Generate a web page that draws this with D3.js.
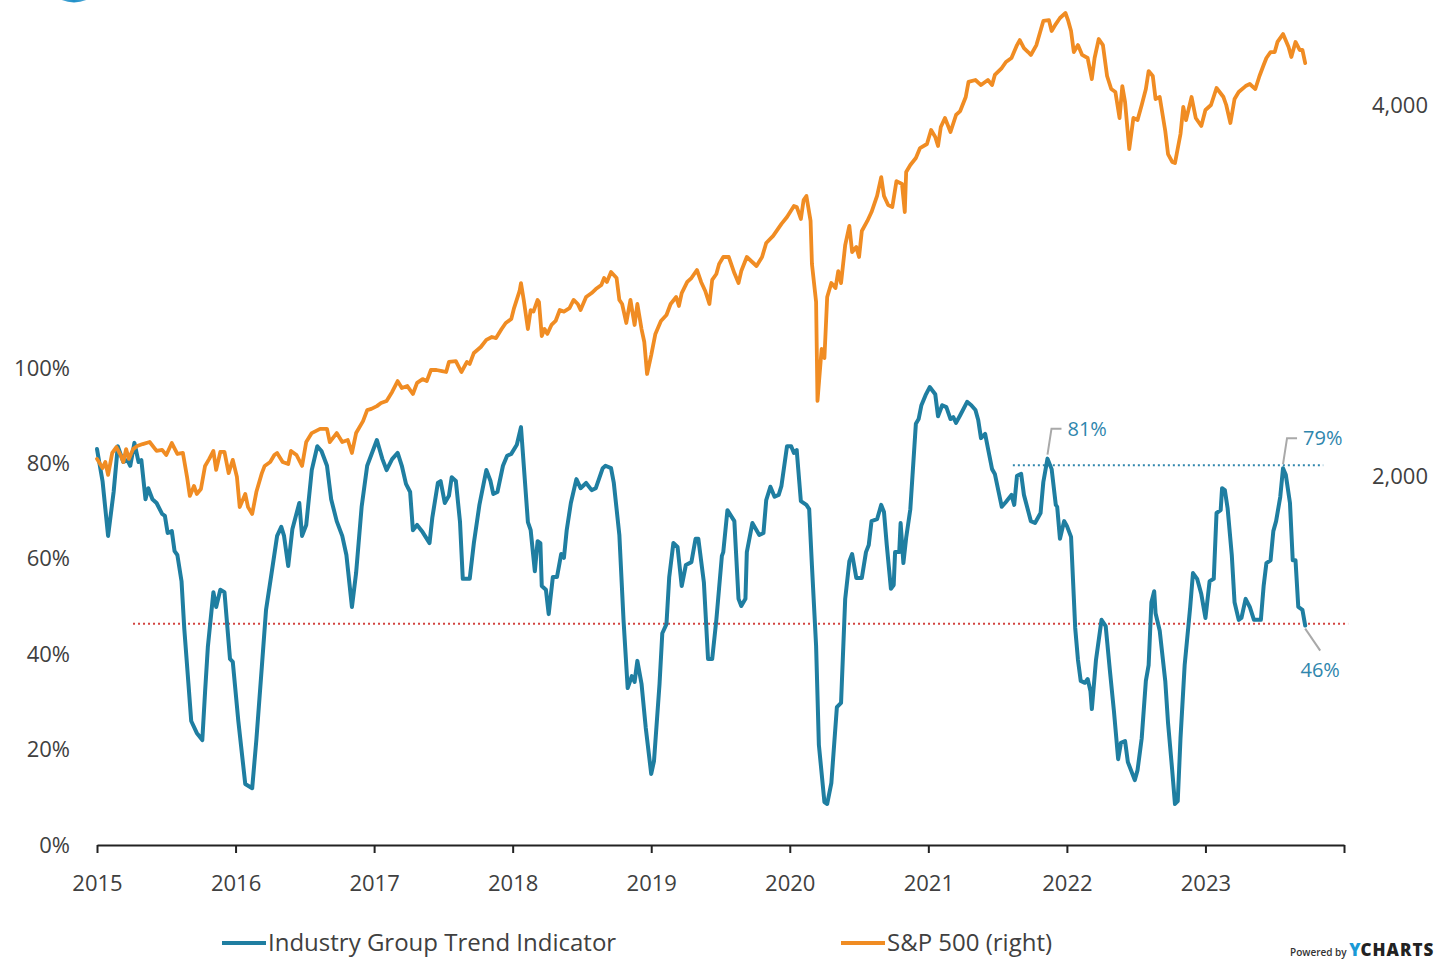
<!DOCTYPE html>
<html>
<head>
<meta charset="utf-8">
<script src="https://cdn.jsdelivr.net/npm/d3@7"></script>
<style>
  body { margin: 0; background: #fff; }
  svg { display: block; font-family: "Open Sans", "Noto Sans", sans-serif; }
</style>
</head>
<body>
<div id="chart"></div>
<script>
// x axis years
const xTicks = [2015, 2016, 2017, 2018, 2019, 2020, 2021, 2022, 2023, 2024];
const pctTicks = [0, 20, 40, 60, 80, 100];
const spxTicks = [2000, 4000];

// Industry Group Trend Indicator (%), dates as decimal years
const trendYears = [
  2015.00,2015.04,2015.08,2015.12,2015.15,2015.19,2015.22,2015.24,2015.27,2015.30,2015.32,2015.35,2015.37,2015.40,2015.43,2015.47,2015.49,2015.51,2015.54,2015.56,
  2015.58,2015.61,2015.63,2015.66,2015.68,2015.72,2015.76,2015.78,2015.80,2015.84,2015.86,2015.89,2015.92,2015.96,2015.98,2016.02,2016.07,2016.12,2016.15,2016.19,
  2016.22,2016.26,2016.30,2016.33,2016.35,2016.38,2016.41,2016.46,2016.48,2016.51,2016.55,2016.59,2016.62,2016.66,2016.69,2016.73,2016.77,2016.80,2016.84,2016.87,
  2016.91,2016.95,2017.02,2017.06,2017.09,2017.13,2017.17,2017.20,2017.23,2017.26,2017.28,2017.31,2017.35,2017.40,2017.42,2017.46,2017.48,2017.51,2017.54,2017.56,
  2017.59,2017.62,2017.64,2017.69,2017.72,2017.76,2017.81,2017.84,2017.86,2017.89,2017.93,2017.96,2017.99,2018.03,2018.06,2018.11,2018.13,2018.16,2018.18,2018.20,
  2018.21,2018.24,2018.26,2018.29,2018.32,2018.35,2018.37,2018.39,2018.42,2018.46,2018.49,2018.53,2018.57,2018.60,2018.65,2018.67,2018.71,2018.73,2018.77,2018.80,
  2018.83,2018.86,2018.88,2018.90,2018.93,2018.96,2019.00,2019.02,2019.06,2019.08,2019.11,2019.13,2019.16,2019.19,2019.22,2019.25,2019.29,2019.32,2019.34,2019.38,
  2019.41,2019.44,2019.47,2019.51,2019.52,2019.55,2019.60,2019.63,2019.65,2019.68,2019.69,2019.73,2019.78,2019.81,2019.83,2019.86,2019.89,2019.92,2019.94,2019.98,
  2020.01,2020.03,2020.05,2020.08,2020.12,2020.14,2020.16,2020.19,2020.21,2020.25,2020.27,2020.30,2020.34,2020.37,2020.40,2020.43,2020.45,2020.48,2020.52,2020.55,
  2020.57,2020.59,2020.63,2020.66,2020.68,2020.70,2020.73,2020.75,2020.76,2020.79,2020.80,2020.82,2020.84,2020.87,2020.91,2020.93,2020.95,2020.98,2021.01,2021.05,
  2021.07,2021.10,2021.13,2021.16,2021.18,2021.20,2021.23,2021.28,2021.31,2021.34,2021.36,2021.38,2021.41,2021.43,2021.46,2021.48,2021.53,2021.56,2021.60,2021.62,
  2021.64,2021.67,2021.69,2021.74,2021.77,2021.81,2021.83,2021.86,2021.89,2021.92,2021.93,2021.95,2021.98,2022.00,2022.03,2022.06,2022.08,2022.10,2022.13,2022.15,
  2022.17,2022.18,2022.21,2022.25,2022.28,2022.31,2022.34,2022.37,2022.39,2022.42,2022.44,2022.49,2022.51,2022.54,2022.57,2022.59,2022.61,2022.63,2022.64,2022.67,
  2022.71,2022.73,2022.76,2022.78,2022.80,2022.82,2022.85,2022.89,2022.91,2022.94,2022.97,2023.00,2023.03,2023.06,2023.08,2023.11,2023.12,2023.14,2023.16,2023.19,
  2023.21,2023.24,2023.26,2023.29,2023.32,2023.35,2023.40,2023.42,2023.44,2023.47,2023.49,2023.51,2023.54,2023.56,2023.58,2023.61,2023.63,2023.65,2023.67,2023.70,
  2023.72
];
const trendValues = [
  83.0,76.3,64.8,74.0,83.6,80.3,80.7,79.5,84.3,80.3,80.7,72.5,74.8,72.5,71.7,69.4,69.0,65.4,65.8,61.6,
  60.8,55.3,45.3,33.8,26.0,23.5,22.0,32.1,41.5,53.0,49.9,53.5,53.0,39.0,38.4,26.0,12.8,11.9,22.0,37.5,
  49.3,57.0,64.8,66.7,64.8,58.5,66.2,71.7,64.8,67.1,78.6,83.6,82.6,79.5,72.5,67.9,64.8,60.8,49.9,57.0,
  70.9,79.5,84.9,80.9,78.6,80.9,82.2,79.5,75.7,74.0,66.0,67.1,65.6,63.3,68.6,75.9,76.3,71.7,73.2,77.1,
  76.3,67.7,55.8,55.8,63.3,71.3,78.6,76.3,73.6,74.0,79.5,81.6,82.0,83.9,87.6,67.7,66.0,57.4,63.7,63.3,
  54.3,53.5,48.4,56.2,56.2,61.0,60.2,66.0,71.7,76.7,74.8,75.9,74.4,74.8,79.0,79.5,79.0,75.9,65.0,47.2,
  32.9,35.4,34.2,38.6,33.8,24.7,14.9,17.6,33.8,44.4,46.3,56.2,63.3,62.5,54.3,58.7,59.3,64.2,64.2,55.1,
  39.0,39.0,47.2,60.6,61.4,70.2,67.9,51.6,50.1,51.6,61.4,67.5,65.0,65.4,72.3,75.1,73.0,73.4,75.3,83.6,
  83.6,82.2,82.8,72.1,71.3,70.4,58.5,41.7,21.0,9.0,8.6,13.0,28.9,29.8,51.6,59.5,61.0,56.0,56.0,61.4,
  62.9,67.9,68.3,71.3,69.8,62.9,53.7,54.5,61.4,61.4,67.5,59.1,64.4,70.4,88.3,89.3,92.2,94.3,96.0,94.5,
  89.9,92.2,91.8,89.3,89.7,88.5,90.1,92.9,92.2,91.2,89.1,85.3,86.2,83.2,78.8,77.8,70.9,71.9,73.4,71.3,
  77.4,77.8,73.4,67.9,67.5,69.6,76.1,81.0,78.8,71.3,70.9,64.2,67.9,66.9,64.6,45.5,38.8,34.4,34.0,34.8,
  32.3,28.5,38.8,47.2,45.9,36.7,27.9,18.0,21.4,21.8,17.4,13.6,15.7,22.4,34.4,37.7,50.9,53.2,48.6,44.9,
  34.4,25.6,15.7,8.6,9.2,22.4,37.7,49.9,57.0,55.8,52.6,47.6,55.3,55.8,69.6,70.2,74.8,74.4,70.6,60.8,
  50.9,47.2,47.6,51.6,49.9,47.2,47.2,54.3,59.1,59.7,65.8,67.9,73.0,79.0,77.6,71.7,59.7,59.7,49.9,49.3,
  46.0
];

// S&P 500 (right axis, log scale)
const spxYears = [
  2015.00,2015.04,2015.06,2015.08,2015.11,2015.14,2015.17,2015.19,2015.21,2015.23,2015.26,2015.29,2015.33,2015.38,2015.43,2015.47,2015.50,2015.54,2015.58,2015.62,
  2015.65,2015.67,2015.70,2015.72,2015.75,2015.78,2015.81,2015.84,2015.86,2015.89,2015.92,2015.95,2015.98,2016.01,2016.03,2016.07,2016.09,2016.12,2016.15,2016.19,
  2016.21,2016.25,2016.28,2016.30,2016.34,2016.38,2016.40,2016.44,2016.48,2016.51,2016.55,2016.61,2016.66,2016.68,2016.73,2016.77,2016.81,2016.84,2016.87,2016.92,
  2016.95,2016.98,2017.02,2017.05,2017.09,2017.13,2017.17,2017.20,2017.24,2017.28,2017.31,2017.35,2017.38,2017.41,2017.45,2017.49,2017.52,2017.54,2017.59,2017.63,
  2017.67,2017.69,2017.72,2017.77,2017.81,2017.85,2017.88,2017.92,2017.95,2017.99,2018.01,2018.05,2018.06,2018.08,2018.11,2018.13,2018.15,2018.18,2018.19,2018.21,
  2018.23,2018.25,2018.28,2018.31,2018.34,2018.37,2018.41,2018.44,2018.47,2018.49,2018.53,2018.57,2018.60,2018.64,2018.66,2018.68,2018.71,2018.75,2018.77,2018.79,
  2018.82,2018.85,2018.88,2018.90,2018.93,2018.95,2018.97,2019.00,2019.03,2019.07,2019.11,2019.14,2019.18,2019.20,2019.22,2019.26,2019.29,2019.33,2019.36,2019.39,
  2019.42,2019.44,2019.47,2019.49,2019.52,2019.56,2019.60,2019.63,2019.65,2019.69,2019.76,2019.80,2019.83,2019.88,2019.94,2019.98,2020.03,2020.05,2020.08,2020.10,
  2020.12,2020.15,2020.16,2020.19,2020.20,2020.23,2020.25,2020.27,2020.30,2020.33,2020.35,2020.37,2020.40,2020.43,2020.45,2020.48,2020.50,2020.52,2020.56,2020.59,
  2020.63,2020.66,2020.68,2020.71,2020.74,2020.77,2020.81,2020.83,2020.84,2020.87,2020.91,2020.94,2020.99,2021.02,2021.05,2021.07,2021.09,2021.12,2021.16,2021.20,
  2021.23,2021.27,2021.29,2021.34,2021.38,2021.43,2021.46,2021.48,2021.53,2021.56,2021.60,2021.64,2021.66,2021.69,2021.72,2021.74,2021.78,2021.83,2021.87,2021.89,
  2021.92,2021.95,2021.99,2022.01,2022.03,2022.05,2022.08,2022.11,2022.15,2022.18,2022.20,2022.23,2022.26,2022.29,2022.32,2022.35,2022.38,2022.40,2022.42,2022.45,
  2022.48,2022.51,2022.54,2022.57,2022.59,2022.62,2022.64,2022.67,2022.71,2022.73,2022.76,2022.78,2022.82,2022.84,2022.86,2022.90,2022.93,2022.97,2023.00,2023.04,
  2023.08,2023.13,2023.15,2023.18,2023.21,2023.24,2023.29,2023.32,2023.36,2023.39,2023.42,2023.44,2023.47,2023.50,2023.52,2023.56,2023.60,2023.62,2023.65,2023.68,
  2023.70,2023.72
];
const spxValues = [
  2065,2030,2053,2004,2088,2111,2080,2053,2103,2065,2103,2115,2123,2131,2096,2100,2080,2127,2084,2088,
  1996,1927,1963,1934,1952,2038,2065,2096,2023,2092,2092,2011,2061,1996,1887,1934,1887,1863,1941,2011,
  2038,2053,2080,2088,2053,2045,2096,2080,2038,2131,2167,2184,2184,2131,2167,2131,2139,2088,2167,2216,
  2262,2267,2279,2292,2301,2340,2388,2357,2366,2331,2380,2397,2388,2438,2438,2433,2429,2475,2479,2429,
  2475,2466,2517,2545,2579,2593,2588,2632,2662,2682,2737,2826,2868,2779,2632,2727,2719,2779,2768,2598,
  2632,2608,2652,2672,2727,2719,2737,2779,2758,2727,2794,2815,2836,2858,2895,2874,2928,2895,2779,2758,
  2662,2779,2652,2758,2632,2569,2420,2507,2608,2672,2702,2758,2794,2748,2815,2874,2895,2939,2874,2826,
  2758,2885,2917,2972,3011,3011,2922,2868,2933,3011,2961,3011,3091,3132,3203,3245,3312,3306,3233,3349,
  3375,3221,2972,2768,2301,2536,2493,2794,2868,2842,2933,2868,3079,3191,3039,3068,3011,3161,3221,3275,
  3375,3496,3375,3318,3306,3470,3451,3275,3529,3576,3623,3691,3719,3817,3768,3705,3839,3904,3803,3926,
  3955,4060,4176,4191,4152,4191,4152,4231,4286,4335,4367,4474,4516,4449,4416,4392,4474,4680,4688,4593,
  4653,4706,4750,4680,4593,4416,4474,4392,4367,4199,4367,4525,4474,4223,4121,4098,3904,4144,4022,3684,
  3904,3889,4000,4121,4262,4223,4045,4060,3810,3650,3596,3589,3789,3985,3889,4060,3904,3846,3963,4000,
  4129,4060,4000,3868,4045,4098,4144,4160,4121,4223,4310,4367,4416,4416,4500,4567,4458,4375,4500,4433,
  4433,4326
];

// reference levels and callouts
const lowLevel = 46.4;
const highLevel = 79.6;
const highLine = [2021.61, 2023.85];
const lowLine = [2015.26, 2024.03];
const callouts = [
  { year: 2021.86, value: 81, label: "81%" },
  { year: 2023.56, value: 79, label: "79%" }
];
const lastCallout = { year: 2023.72, value: 46, label: "46%" };

const W = 1444, H = 961;
const left = 97, right = 1344, bottom = 845;

const blue = "#1f7ea1", orange = "#f08c23", textCol = "#404040", annCol = "#2f86ad";

const svg = d3.select("#chart").append("svg")
  .attr("width", W).attr("height", H);

const x = d3.scaleLinear().domain([2015, 2024]).range([left, right]);
const yPct = d3.scaleLinear().domain([0, 100]).range([bottom, 368]);
const ySpx = d3.scaleLog().domain([2000, 4000]).range([476, 105]);

// cropped logo at top-left
const grad = svg.append("defs").append("linearGradient").attr("id", "logo");
grad.append("stop").attr("offset", "0%").attr("stop-color", "#9fd3ee");
grad.append("stop").attr("offset", "50%").attr("stop-color", "#1f8fc8");
grad.append("stop").attr("offset", "100%").attr("stop-color", "#9fd3ee");
svg.append("ellipse").attr("cx", 74).attr("cy", -30).attr("rx", 32).attr("ry", 32.5)
  .attr("fill", "url(#logo)");

// reference lines
svg.append("line")
  .attr("x1", x(lowLine[0])).attr("x2", x(lowLine[1]))
  .attr("y1", yPct(lowLevel)).attr("y2", yPct(lowLevel))
  .attr("stroke", "#d2443f").attr("stroke-width", 2).attr("stroke-dasharray", "2,3");
svg.append("line")
  .attr("x1", x(highLine[0])).attr("x2", x(highLine[1]))
  .attr("y1", yPct(highLevel)).attr("y2", yPct(highLevel))
  .attr("stroke", "#2f86ad").attr("stroke-width", 2).attr("stroke-dasharray", "2,3");

// x axis
const xAxis = svg.append("g")
  .attr("transform", `translate(0,${bottom})`)
  .call(d3.axisBottom(x).tickValues(xTicks).tickSize(8).tickSizeOuter(0).tickPadding(22)
    .tickFormat(d => d === 2024 ? "" : d3.format("d")(d)));
xAxis.select(".domain").attr("stroke", "#222").attr("stroke-width", 2);
xAxis.selectAll(".tick line").attr("stroke", "#222").attr("stroke-width", 2);
xAxis.selectAll("text").attr("fill", textCol).style("font-size", "22px")
  .style("font-family", "'Open Sans', sans-serif");

// left axis
const yAxisL = svg.append("g")
  .attr("transform", `translate(${left},0)`)
  .call(d3.axisLeft(yPct).tickValues(pctTicks).tickSize(0).tickPadding(27).tickFormat(d => d + "%"));
yAxisL.select(".domain").remove();
yAxisL.selectAll("text").attr("fill", textCol).style("font-size", "22px")
  .style("font-family", "'Open Sans', sans-serif");

// right axis
const yAxisR = svg.append("g")
  .attr("transform", `translate(${right},0)`)
  .call(d3.axisRight(ySpx).tickValues(spxTicks).tickSize(0).tickPadding(28).tickFormat(d3.format(",")));
yAxisR.select(".domain").remove();
yAxisR.selectAll("text").attr("fill", textCol).style("font-size", "22px")
  .style("font-family", "'Open Sans', sans-serif");

// series
const trend = trendYears.map((t, i) => [t, trendValues[i]]);
const spx = spxYears.map((t, i) => [t, spxValues[i]]);

svg.append("path").datum(trend)
  .attr("fill", "none").attr("stroke", blue).attr("stroke-width", 4)
  .attr("stroke-linejoin", "round").attr("stroke-linecap", "round")
  .attr("d", d3.line().x(d => x(d[0])).y(d => yPct(d[1])));

svg.append("path").datum(spx)
  .attr("fill", "none").attr("stroke", orange).attr("stroke-width", 3.8)
  .attr("stroke-linejoin", "round").attr("stroke-linecap", "round")
  .attr("d", d3.line().x(d => x(d[0])).y(d => ySpx(d[1])));

// callouts
callouts.forEach(c => {
  const px = x(c.year), py = yPct(c.value);
  svg.append("polyline")
    .attr("points", `${px},${py - 4} ${px + 4},${py - 30} ${px + 14},${py - 30}`)
    .attr("fill", "none").attr("stroke", "#a9a9a9").attr("stroke-width", 2);
  svg.append("text").attr("x", px + 20).attr("y", py - 30).attr("dy", "0.35em")
    .attr("fill", annCol).style("font-size", "20px").text(c.label);
});
{
  const px = x(lastCallout.year), py = yPct(lastCallout.value);
  svg.append("line")
    .attr("x1", px).attr("y1", py + 3).attr("x2", px + 15).attr("y2", py + 25)
    .attr("stroke", "#a9a9a9").attr("stroke-width", 2);
  svg.append("text").attr("x", px + 15).attr("y", py + 44).attr("dy", "0.35em")
    .attr("text-anchor", "middle")
    .attr("fill", annCol).style("font-size", "20px").text(lastCallout.label);
}

// legend
const legend = [
  { label: "Industry Group Trend Indicator", color: blue, x: 222 },
  { label: "S&P 500 (right)", color: orange, x: 841 }
];
legend.forEach(l => {
  svg.append("line").attr("x1", l.x).attr("x2", l.x + 44).attr("y1", 943).attr("y2", 943)
    .attr("stroke", l.color).attr("stroke-width", 4);
  svg.append("text").attr("x", l.x + 46).attr("y", 943).attr("dy", "0.35em")
    .attr("fill", textCol).style("font-size", "24px").text(l.label);
});

// footer
const foot = svg.append("text").attr("x", 1290).attr("y", 956);
foot.append("tspan").attr("fill", "#333").style("font-size", "10px").style("font-weight", "600")
  .text("Powered by ");
foot.append("tspan").attr("fill", "#1a9ad6").style("font-size", "17px").style("font-weight", "800")
  .text("Y");
foot.append("tspan").attr("fill", "#222").style("font-size", "17px").style("font-weight", "800")
  .attr("letter-spacing", "1px").text("CHARTS");
</script>
</body>
</html>
